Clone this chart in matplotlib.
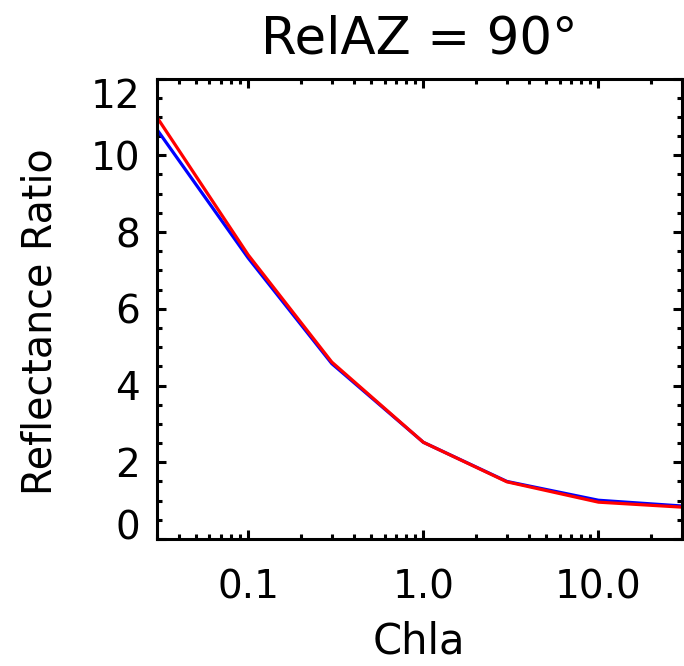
import matplotlib
matplotlib.use("Agg")
import matplotlib.pyplot as plt
from matplotlib.ticker import FixedLocator, MultipleLocator, NullFormatter

# Data
chla = [0.03, 0.1, 0.3, 1.0, 3.0, 10.0, 30.0]
ratio_blue = [10.68, 7.32, 4.57, 2.52, 1.50, 1.01, 0.86]
ratio_red = [11.00, 7.40, 4.61, 2.52, 1.49, 0.96, 0.83]
x_ticks = [0.1, 1.0, 10.0]
x_ticklabels = ["0.1", "1.0", "10.0"]
y_ticks = [0, 2, 4, 6, 8, 10, 12]
title = "RelAZ = 90°"
xlabel = "Chla"
ylabel = "Reflectance Ratio"

plt.rcParams['font.family'] = ['DejaVu Sans']

W, H = 684, 666
fig = plt.figure(figsize=(W / 100, H / 100), dpi=100)
L, R, T, B = 156.7, 682.0, 78.5, 539.0
ax = fig.add_axes([L / W, 1 - B / H, (R - L) / W, (B - T) / H])

ax.plot(chla, ratio_blue, color=(0, 0, 1), lw=2.3, solid_joinstyle='miter')
ax.plot(chla, ratio_red, color=(1, 0, 0), lw=2.3, solid_joinstyle='miter')

ax.set_xscale('log')
ax.set_xlim(0.03, 30)
ax.set_ylim(0, 12)

ax.xaxis.set_major_locator(FixedLocator(x_ticks))
ax.set_xticklabels(x_ticklabels)
minor_x = [m * d for d in (0.01, 0.1, 1.0, 10.0) for m in range(2, 10) if 0.03 <= m * d <= 30]
ax.xaxis.set_minor_locator(FixedLocator(minor_x))
ax.xaxis.set_minor_formatter(NullFormatter())

ax.yaxis.set_major_locator(FixedLocator(y_ticks))
ax.set_yticklabels([str(v) for v in y_ticks])
ax.yaxis.set_minor_locator(MultipleLocator(0.5))

for s in ax.spines.values():
    s.set_linewidth(2.2)

ax.tick_params(which='both', direction='in', top=True, right=True, width=2.2)
ax.tick_params(which='major', length=6.8)
ax.tick_params(which='minor', length=3.3)
ax.tick_params(axis='x', which='major', labelsize=28, pad=21)
ax.tick_params(axis='y', which='major', labelsize=28, pad=12)

ylabels = ax.get_yticklabels()
ylabels[0].set_va('baseline')
ylabels[-1].set_va('top')

ax.set_title(title, fontsize=37, pad=18)
ax.set_xlabel(xlabel, fontsize=30, labelpad=10)
ax.set_ylabel(ylabel, fontsize=28.5)
ax.yaxis.set_label_coords(-0.184, 0.472)

fig.savefig("out.png", dpi=100)
